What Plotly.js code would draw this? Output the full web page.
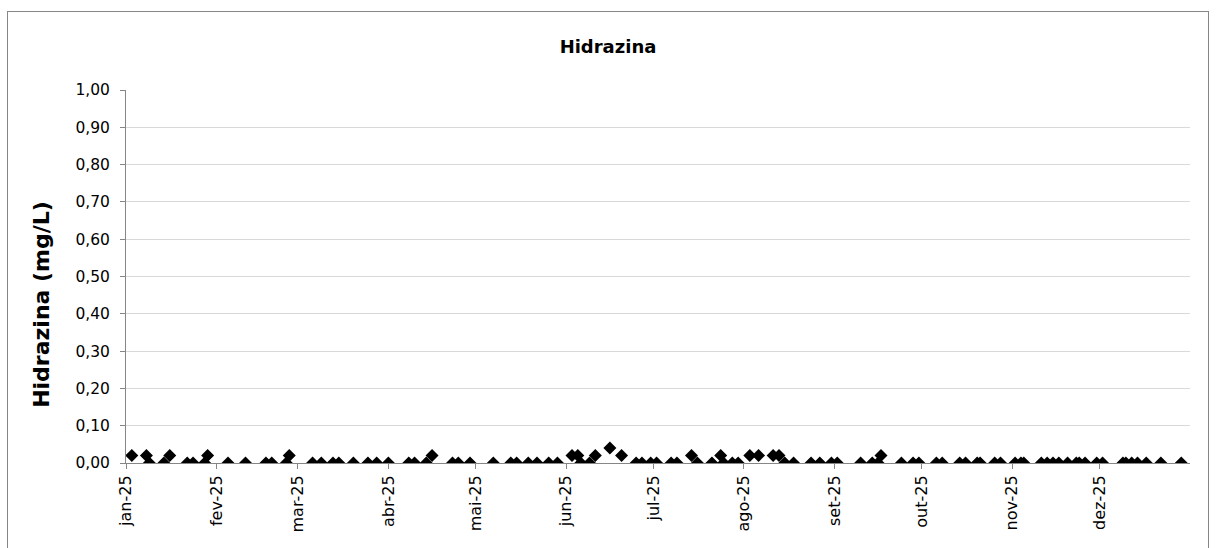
<!DOCTYPE html>
<html>
<head>
<meta charset="utf-8">
<script src="https://cdn.plot.ly/plotly-3.0.1.min.js"></script>
<style>
    html, body { margin: 0; padding: 0; background: #fff; overflow: hidden; }
    #frame { position: absolute; left: 7px; top: 11px; width: 1200px; height: 560px; border: 1px solid #868686; }
    #plot { position: absolute; left: 0; top: 0; width: 1200px; height: 560px; }
</style>
</head>
<body>
<div id="frame"><div id="plot"></div></div>
<script>
// sample dates and hydrazine readings (mg/L)
const sampleDates = [
    '2025-01-03', '2025-01-08', '2025-01-09', '2025-01-14', '2025-01-16', '2025-01-22', '2025-01-24', '2025-01-28', '2025-01-29',
    '2025-02-05', '2025-02-11', '2025-02-18', '2025-02-20', '2025-02-25', '2025-02-26',
    '2025-03-06', '2025-03-09', '2025-03-13', '2025-03-15', '2025-03-20', '2025-03-25', '2025-03-28',
    '2025-04-01', '2025-04-08', '2025-04-10', '2025-04-14', '2025-04-16', '2025-04-23', '2025-04-25', '2025-04-29',
    '2025-05-07', '2025-05-13', '2025-05-15', '2025-05-19', '2025-05-22', '2025-05-26', '2025-05-29',
    '2025-06-03', '2025-06-05', '2025-06-06', '2025-06-09', '2025-06-11', '2025-06-16', '2025-06-20', '2025-06-25', '2025-06-27', '2025-06-30',
    '2025-07-02', '2025-07-07', '2025-07-09', '2025-07-14', '2025-07-16', '2025-07-21', '2025-07-24', '2025-07-25', '2025-07-28', '2025-07-30',
    '2025-08-03', '2025-08-06', '2025-08-11', '2025-08-13', '2025-08-15', '2025-08-18', '2025-08-24', '2025-08-27', '2025-08-31',
    '2025-09-02', '2025-09-10', '2025-09-14', '2025-09-16', '2025-09-17', '2025-09-24', '2025-09-28', '2025-09-30',
    '2025-10-06', '2025-10-08', '2025-10-14', '2025-10-16', '2025-10-20', '2025-10-21', '2025-10-26', '2025-10-28',
    '2025-11-02', '2025-11-04', '2025-11-05', '2025-11-11', '2025-11-13', '2025-11-15', '2025-11-17', '2025-11-20', '2025-11-23', '2025-11-24', '2025-11-26', '2025-11-30',
    '2025-12-02', '2025-12-09', '2025-12-10', '2025-12-12', '2025-12-14', '2025-12-17', '2025-12-22', '2025-12-29'
];
const hydrazine = [
    0.02, 0.02, 0.00, 0.00, 0.02, 0.00, 0.00, 0.00, 0.02,
    0.00, 0.00, 0.00, 0.00, 0.00, 0.02,
    0.00, 0.00, 0.00, 0.00, 0.00, 0.00, 0.00,
    0.00, 0.00, 0.00, 0.00, 0.02, 0.00, 0.00, 0.00,
    0.00, 0.00, 0.00, 0.00, 0.00, 0.00, 0.00,
    0.02, 0.02, 0.00, 0.00, 0.02, 0.04, 0.02, 0.00, 0.00, 0.00,
    0.00, 0.00, 0.00, 0.02, 0.00, 0.00, 0.02, 0.00, 0.00, 0.00,
    0.02, 0.02, 0.02, 0.02, 0.00, 0.00, 0.00, 0.00, 0.00,
    0.00, 0.00, 0.00, 0.00, 0.02, 0.00, 0.00, 0.00,
    0.00, 0.00, 0.00, 0.00, 0.00, 0.00, 0.00, 0.00,
    0.00, 0.00, 0.00, 0.00, 0.00, 0.00, 0.00, 0.00, 0.00, 0.00, 0.00, 0.00,
    0.00, 0.00, 0.00, 0.00, 0.00, 0.00, 0.00, 0.00
];

const monthTicks = ['2025-01-01', '2025-02-01', '2025-03-01', '2025-04-01', '2025-05-01', '2025-06-01',
    '2025-07-01', '2025-08-01', '2025-09-01', '2025-10-01', '2025-11-01', '2025-12-01'];
const monthLabels = ['jan-25', 'fev-25', 'mar-25', 'abr-25', 'mai-25', 'jun-25',
    'jul-25', 'ago-25', 'set-25', 'out-25', 'nov-25', 'dez-25'];

const font = 'DejaVu Sans, Verdana, sans-serif';

const trace = {
    x: sampleDates,
    y: hydrazine,
    type: 'scatter',
    mode: 'markers',
    marker: { symbol: 'diamond', size: 10, color: '#000000' },
    hoverinfo: 'x+y'
};

const layout = {
    width: 1200,
    height: 560,
    margin: { l: 118, r: 18, t: 78, b: 109 },
    paper_bgcolor: '#ffffff',
    plot_bgcolor: '#ffffff',
    separators: ',.',
    showlegend: false,
    font: { family: font, size: 15, color: '#000000' },
    title: {
        text: '<b>Hidrazina</b>',
        font: { family: font, size: 18, color: '#000000' },
        x: 0.5, xanchor: 'center',
        y: 1 - 35 / 560, yref: 'container', yanchor: 'middle'
    },
    xaxis: {
        type: 'date',
        range: ['2025-01-01', '2026-01-01'],
        tickvals: monthTicks,
        ticktext: monthLabels,
        tickangle: -90,
        ticks: 'outside',
        ticklen: 5,
        tickcolor: '#868686',
        showline: true,
        linecolor: '#868686',
        linewidth: 1,
        showgrid: false,
        zeroline: false,
        tickfont: { family: font, size: 16 }
    },
    yaxis: {
        range: [0, 1],
        dtick: 0.1,
        tick0: 0,
        tickformat: '.2f',
        ticks: 'outside',
        ticklen: 5,
        tickcolor: '#868686',
        showline: true,
        linecolor: '#868686',
        linewidth: 1,
        gridcolor: '#d9d9d9',
        gridwidth: 1,
        zeroline: false,
        ticklabelstandoff: 7,
        tickfont: { family: font, size: 15.5 }
    },
    annotations: [{
        text: '<b>Hidrazina (mg/L)</b>',
        textangle: -90,
        xref: 'paper', x: 0, xanchor: 'center', xshift: -84,
        yref: 'paper', y: 0.424, yanchor: 'middle',
        showarrow: false,
        font: { family: font, size: 22, color: '#000000' }
    }]
};

Plotly.newPlot('plot', [trace], layout, { displayModeBar: false, staticPlot: true });
</script>
</body>
</html>
